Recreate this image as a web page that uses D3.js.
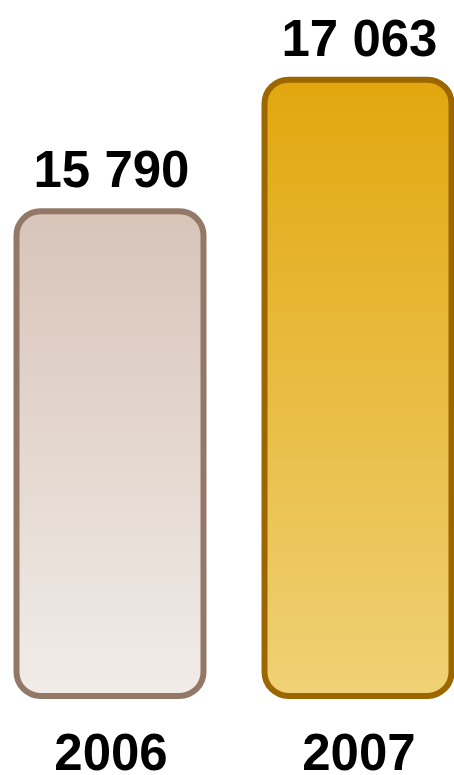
<!DOCTYPE html>
<html>
<head>
<meta charset="utf-8">
<script src="https://cdn.jsdelivr.net/npm/d3@7"></script>
<style>
  html, body { margin: 0; padding: 0; background: #fff; overflow: hidden; }
</style>
</head>
<body>
<div id="chart"></div>
<script>
// data
const years = ["2006", "2007"];
const values = [15790, 17063];
const valueLabels = ["15 790", "17 063"];

const width = 454, height = 775;

const svg = d3.select("#chart")
    .append("svg")
    .attr("width", width)
    .attr("height", height);

// gradients for each bar
const gradColors = [
    { top: "#d8c4b9", bottom: "#f1ece8", stroke: "#937868" },
    { top: "#e2a70e", bottom: "#f0d176", stroke: "#9c6700" }
];
const defs = svg.append("defs");
gradColors.forEach(function (c, i) {
    const g = defs.append("linearGradient")
        .attr("id", "grad" + i)
        .attr("x1", 0).attr("y1", 0)
        .attr("x2", 0).attr("y2", 1);
    g.append("stop").attr("offset", "0%").attr("stop-color", c.top);
    g.append("stop").attr("offset", "100%").attr("stop-color", c.bottom);
});

// x scale
const x = d3.scaleBand()
    .domain(years)
    .range([-44.5, 512.5])
    .padding(0.246);

// y scale (baseline not at zero)
const y = d3.scaleLinear()
    .domain([11098, 17063])
    .range([696, 79.7]);

const data = years.map(function (d, i) {
    return { year: d, value: values[i], label: valueLabels[i], i: i };
});

// bars
svg.selectAll("rect.bar")
    .data(data)
    .enter()
    .append("rect")
    .attr("class", "bar")
    .attr("x", function (d) { return x(d.year); })
    .attr("y", function (d) { return y(d.value); })
    .attr("width", x.bandwidth())
    .attr("height", function (d) { return y.range()[0] - y(d.value); })
    .attr("rx", 24)
    .attr("ry", 24)
    .attr("fill", function (d) { return "url(#grad" + d.i + ")"; })
    .attr("stroke", function (d) { return gradColors[d.i].stroke; })
    .attr("stroke-width", 6);

// value labels
svg.selectAll("text.value")
    .data(data)
    .enter()
    .append("text")
    .attr("class", "value")
    .attr("x", function (d) { return x(d.year) + x.bandwidth() / 2 + 1.5; })
    .attr("y", function (d) { return y(d.value) - 24; })
    .attr("text-anchor", "middle")
    .style("font-family", "'Liberation Sans', Arial, sans-serif")
    .style("font-weight", "bold")
    .style("font-size", "51px")
    .text(function (d) { return d.label; });

// year labels
svg.selectAll("text.year")
    .data(data)
    .enter()
    .append("text")
    .attr("class", "year")
    .attr("x", function (d) { return x(d.year) + x.bandwidth() / 2 + 1; })
    .attr("y", 770)
    .attr("text-anchor", "middle")
    .style("font-family", "'Liberation Sans', Arial, sans-serif")
    .style("font-weight", "bold")
    .style("font-size", "51px")
    .text(function (d) { return d.year; });
</script>
</body>
</html>
